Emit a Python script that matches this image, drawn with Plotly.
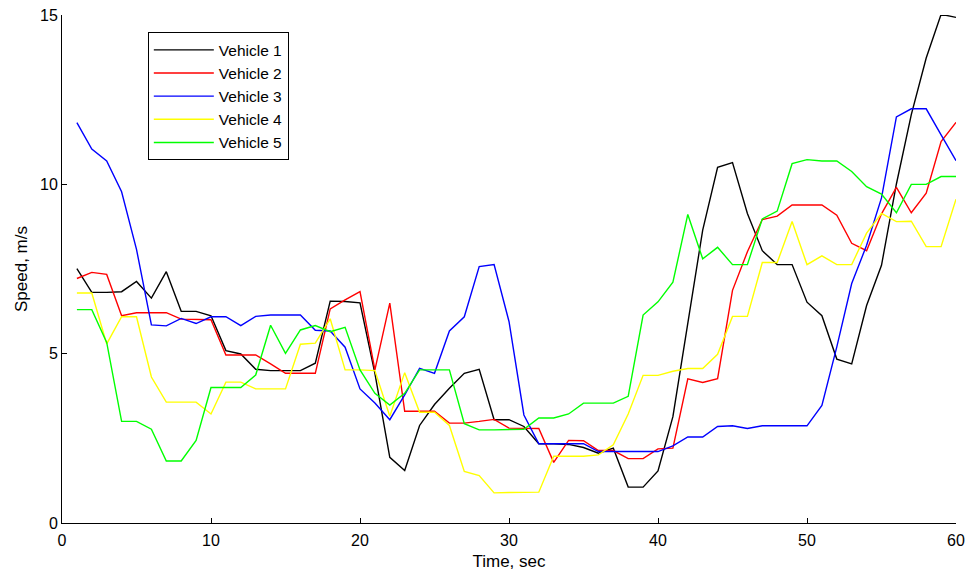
import plotly.graph_objects as go

time = list(range(1, 61))

vehicle1 = [7.51, 6.81, 6.81, 6.83, 7.13, 6.64, 7.42, 6.25, 6.25, 6.12,
            5.09, 4.99, 4.54, 4.50, 4.50, 4.50, 4.72, 6.55, 6.54, 6.50,
            4.42, 1.94, 1.55, 2.88, 3.50, 3.98, 4.42, 4.54, 3.05, 3.05,
            2.85, 2.34, 2.34, 2.32, 2.23, 2.06, 2.21, 1.06, 1.06, 1.54,
            3.14, 5.90, 8.65, 10.50, 10.64, 9.14, 8.04, 7.63, 7.63, 6.52,
            6.12, 4.84, 4.70, 6.42, 7.61, 10.01, 12.06, 13.73, 15.02, 14.93]

vehicle2 = [7.22, 7.40, 7.34, 6.12, 6.21, 6.21, 6.21, 6.02, 6.00, 6.00,
            4.96, 4.96, 4.96, 4.70, 4.42, 4.42, 4.42, 6.32, 6.59, 6.83,
            4.52, 6.49, 3.30, 3.30, 3.30, 2.95, 2.95, 3.00, 3.06, 2.80,
            2.79, 2.79, 1.79, 2.44, 2.43, 2.14, 2.14, 1.90, 1.90, 2.19,
            2.21, 4.26, 4.15, 4.26, 6.87, 8.01, 8.96, 9.06, 9.39, 9.38,
            9.39, 9.09, 8.26, 8.04, 9.13, 9.91, 9.16, 9.74, 11.26, 11.83]

vehicle3 = [11.82, 11.04, 10.69, 9.78, 8.08, 5.85, 5.82, 6.04, 5.89, 6.09,
            6.09, 5.83, 6.10, 6.14, 6.14, 6.14, 5.69, 5.67, 5.19, 3.96,
            3.54, 3.05, 3.78, 4.57, 4.42, 5.67, 6.09, 7.57, 7.63, 5.95,
            3.19, 2.34, 2.34, 2.34, 2.34, 2.11, 2.11, 2.11, 2.11, 2.11,
            2.28, 2.54, 2.54, 2.85, 2.87, 2.79, 2.87, 2.87, 2.87, 2.87,
            3.47, 5.20, 7.07, 8.20, 9.60, 11.99, 12.23, 12.23, 11.46, 10.70]

vehicle4 = [6.79, 6.79, 5.29, 6.09, 6.09, 4.31, 3.57, 3.57, 3.57, 3.22,
            4.16, 4.16, 3.96, 3.96, 3.96, 5.28, 5.31, 6.03, 4.52, 4.52,
            4.50, 3.15, 4.44, 3.27, 3.27, 2.88, 1.52, 1.40, 0.89, 0.90,
            0.91, 0.91, 1.97, 1.97, 1.97, 2.01, 2.31, 3.22, 4.36, 4.36,
            4.48, 4.56, 4.56, 4.98, 6.10, 6.10, 7.69, 7.69, 8.90, 7.63,
            7.89, 7.63, 7.63, 8.56, 9.14, 8.90, 8.91, 8.16, 8.16, 9.56]

vehicle5 = [6.30, 6.30, 5.33, 3.00, 3.00, 2.77, 1.83, 1.83, 2.44, 4.00,
            4.00, 4.00, 4.37, 5.84, 5.01, 5.70, 5.83, 5.65, 5.78, 4.52,
            3.83, 3.48, 3.83, 4.52, 4.52, 4.52, 2.93, 2.75, 2.75, 2.75,
            2.77, 3.10, 3.10, 3.22, 3.54, 3.54, 3.54, 3.74, 6.14, 6.53,
            7.11, 9.11, 7.80, 8.14, 7.63, 7.63, 8.98, 9.21, 10.61, 10.73,
            10.69, 10.69, 10.38, 9.93, 9.71, 9.16, 10.00, 10.00, 10.23, 10.23]

names = ["Vehicle 1", "Vehicle 2", "Vehicle 3", "Vehicle 4", "Vehicle 5"]
colors = ["#000000", "#ff0000", "#0000ff", "#ffff00", "#00ff00"]
series = [vehicle1, vehicle2, vehicle3, vehicle4, vehicle5]

x_ticks = [0, 10, 20, 30, 40, 50, 60]
y_ticks = [0, 5, 10, 15]

fig = go.Figure()
for name, color, ys in zip(names, colors, series):
    fig.add_trace(go.Scatter(x=time, y=ys, mode="lines", name=name,
                             line=dict(color=color, width=1.4)))

fam = "Liberation Sans, Arial, sans-serif"
axis_font = dict(family=fam, size=16, color="#000000")
title_font = dict(family=fam, size=17, color="#000000")

fig.update_layout(
    template="none",
    width=967, height=572,
    margin=dict(l=62, r=11, t=15, b=49, pad=0),
    paper_bgcolor="white", plot_bgcolor="white",
    font=axis_font,
    showlegend=True,
    legend=dict(x=0.096, y=0.966, xanchor="left", yanchor="top",
                bgcolor="white", bordercolor="#000000", borderwidth=1,
                font=dict(family=fam, size=15.5, color="#000000"),
                itemwidth=60, tracegroupgap=0),
    xaxis=dict(range=[0, 60], tickvals=x_ticks, ticks="inside", ticklen=5,
               tickcolor="#000000", showline=True, linecolor="#000000", linewidth=1,
               mirror=False, showgrid=False, zeroline=False, automargin=False,
               tickfont=axis_font, ticklabelstandoff=3,
               title=dict(text="Time, sec", standoff=6, font=title_font)),
    yaxis=dict(range=[0, 15], tickvals=y_ticks, ticks="inside", ticklen=5,
               tickcolor="#000000", showline=True, linecolor="#000000", linewidth=1,
               mirror=False, showgrid=False, zeroline=False, automargin=False,
               tickfont=axis_font,
               title=dict(text="Speed, m/s", standoff=8, font=title_font)),
)

fig.write_html("out.html")
